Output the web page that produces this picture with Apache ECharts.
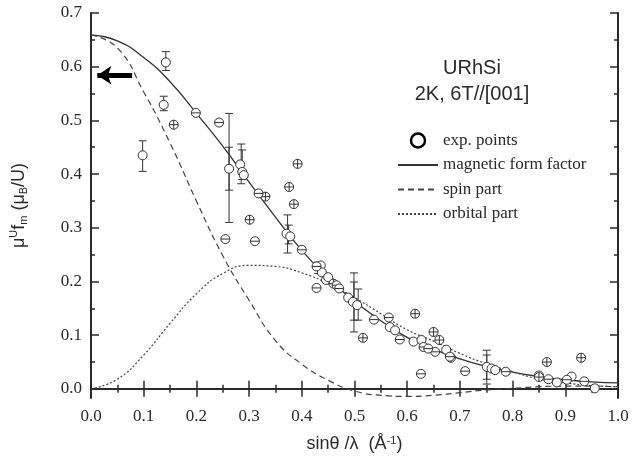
<!DOCTYPE html>
<html>
<head>
<meta charset="utf-8">
<script src="https://cdn.jsdelivr.net/npm/echarts@6/dist/echarts.min.js"></script>
<style>
html, body { margin: 0; padding: 0; background: #fff; }
#chart { width: 632px; height: 465px; }
</style>
</head>
<body>
<div id="chart"></div>
<script>
// curve abscissae (sinθ/λ)
var curveX = [0, 0.05, 0.1, 0.15, 0.2, 0.25, 0.3, 0.35, 0.4, 0.45, 0.5, 0.55, 0.6, 0.65, 0.7, 0.75, 0.8, 0.85, 0.9, 0.95, 1.0]
var formFactor = [0.659, 0.648, 0.617, 0.572, 0.513, 0.452, 0.385, 0.32, 0.258, 0.206, 0.163, 0.127, 0.096, 0.074, 0.056, 0.042, 0.031, 0.023, 0.017, 0.013, 0.011]
var spinPart = [0.659, 0.635, 0.553, 0.458, 0.35, 0.248, 0.165, 0.09, 0.046, 0.016, -0.004, -0.012, -0.014, -0.012, -0.007, -0.002, 0.001, 0.004, 0.005, 0.005, 0.004]
var orbitalPart = [0, 0.018, 0.063, 0.122, 0.177, 0.215, 0.23, 0.228, 0.216, 0.196, 0.17, 0.14, 0.11, 0.089, 0.066, 0.047, 0.032, 0.018, 0.011, 0.006, 0.004]

// measured points: open circles, crossed circles, barred circles
var openPts = [[0.098, 0.435], [0.142, 0.608], [0.138, 0.529], [0.262, 0.41], [0.283, 0.418], [0.287, 0.404],
  [0.29, 0.398], [0.371, 0.289], [0.378, 0.284], [0.436, 0.23], [0.438, 0.217], [0.446, 0.203], [0.45, 0.208],
  [0.488, 0.17], [0.497, 0.162], [0.505, 0.156], [0.567, 0.115], [0.577, 0.109], [0.612, 0.088], [0.627, 0.091],
  [0.674, 0.073], [0.751, 0.041], [0.76, 0.038], [0.767, 0.035], [0.85, 0.025], [0.884, 0.012], [0.912, 0.023],
  [0.956, 0.001]]
var crossPts = [[0.157, 0.492], [0.301, 0.315], [0.331, 0.358], [0.392, 0.419], [0.376, 0.376], [0.385, 0.344],
  [0.46, 0.196], [0.516, 0.095], [0.615, 0.14], [0.65, 0.106], [0.661, 0.091], [0.865, 0.05], [0.93, 0.058],
  [0.85, 0.022], [0.683, 0.058]]
var barPts = [[0.199, 0.514], [0.243, 0.496], [0.318, 0.364], [0.255, 0.279], [0.311, 0.275], [0.4, 0.259],
  [0.428, 0.228], [0.428, 0.188], [0.466, 0.193], [0.471, 0.187], [0.537, 0.129], [0.565, 0.133], [0.586, 0.092],
  [0.631, 0.078], [0.626, 0.028], [0.653, 0.069], [0.681, 0.06], [0.71, 0.033], [0.787, 0.032], [0.868, 0.018],
  [0.903, 0.017], [0.936, 0.014], [0.64, 0.075]]
// error bars: [x, low, high]
var errBars = [[0.098, 0.405, 0.462], [0.142, 0.593, 0.628], [0.138, 0.518, 0.545], [0.262, 0.31, 0.513],
  [0.262, 0.37, 0.45], [0.285, 0.382, 0.456], [0.287, 0.39, 0.445], [0.373, 0.253, 0.324], [0.375, 0.27, 0.305],
  [0.431, 0.215, 0.236], [0.499, 0.106, 0.216], [0.499, 0.128, 0.199], [0.507, 0.128, 0.186],
  [0.751, 0.009, 0.072], [0.751, 0.018, 0.063]]
// axis ticks
var yMajor = [0, 0.1, 0.2, 0.3, 0.4, 0.5, 0.6, 0.7]
var yMinor = [0.05, 0.15, 0.25, 0.35, 0.45, 0.55, 0.65]

var ink = '#2a2a2a'
var serif = 'Liberation Serif'
var sans = 'Liberation Sans'
var circlePlus = 'path://M0,5A5,5 0 1,1 10,5A5,5 0 1,1 0,5ZM5,0L5,10M0,5L10,5'
var circleBar = 'path://M0,5A5,5 0 1,1 10,5A5,5 0 1,1 0,5ZM0,5L10,5'

function zip(xs, ys) {
  return xs.map(function (x, i) { return [x, ys[i]] })
}

function xAx(pos, labels) {
  return {
    type: 'value', position: pos, min: 0, max: 1, interval: 0.1,
    axisLine: { lineStyle: { color: ink, width: 2 } },
    axisTick: { inside: true, length: 8, lineStyle: { color: ink, width: 1.5 } },
    minorTick: { show: true, splitNumber: 2, length: 4, lineStyle: { color: ink, width: 1.5 } },
    axisLabel: {
      show: labels, margin: 10, color: ink, fontFamily: serif, fontSize: 17,
      formatter: function (v) { return v.toFixed(1) }
    },
    splitLine: { show: false }
  }
}

function yAx(pos, ticks, len, labels) {
  return {
    type: 'value', position: pos, min: -0.017, max: 0.7,
    axisLine: { show: len > 5, onZero: false, lineStyle: { color: ink, width: 2 } },
    axisTick: { inside: true, length: len, customValues: ticks, lineStyle: { color: ink, width: 1.5 } },
    axisLabel: {
      show: labels, customValues: yMajor, margin: 9, color: ink, fontFamily: serif, fontSize: 17,
      formatter: function (v) { return v.toFixed(1) }
    },
    splitLine: { show: false }
  }
}

var chart = echarts.init(document.getElementById('chart'))

var xBottom = xAx('bottom', true)
xBottom.name = 'sin\u03b8 /\u03bb  (\u00c5{sup|-1})'
xBottom.nameLocation = 'middle'
xBottom.nameGap = 37
xBottom.nameTextStyle = {
  fontFamily: sans, fontSize: 18, color: ink,
  rich: { sup: { fontFamily: sans, fontSize: 11, color: ink, verticalAlign: 'top', padding: [0, 0, 8, 0] } }
}

var yLeft = yAx('left', yMajor, 8, true)
yLeft.name = '\u03bc{sup|U}f{sub|m} (\u03bc{sub|B}/U)'
yLeft.nameLocation = 'middle'
yLeft.nameGap = 60
yLeft.nameTextStyle = {
  fontFamily: sans, fontSize: 18, color: ink,
  rich: {
    sup: { fontFamily: sans, fontSize: 11, color: ink, padding: [0, 0, 12, 0] },
    sub: { fontFamily: sans, fontSize: 11, color: ink, padding: [8, 0, 0, 0] }
  }
}

var noDot = { opacity: 0 }

chart.setOption({
  backgroundColor: '#fff',
  animation: false,
  grid: { left: 91, right: 14, top: 13, bottom: 67 },
  title: {
    text: 'URhSi\n2K, 6T//[001]',
    left: 467, top: 50, textAlign: 'center',
    textStyle: { fontFamily: sans, fontSize: 20, fontWeight: 'normal', color: ink, lineHeight: 26 }
  },
  legend: {
    orient: 'vertical', left: 392, top: 127,
    itemWidth: 40, itemHeight: 14, itemGap: 7.5,
    textStyle: { fontFamily: serif, fontSize: 17, color: ink },
    data: [
      { name: 'exp. points', itemStyle: { borderWidth: 2.5, color: '#fff', borderColor: '#000' } },
      { name: 'magnetic form factor', itemStyle: noDot },
      { name: 'spin part', itemStyle: noDot },
      { name: 'orbital part', itemStyle: noDot }
    ]
  },
  xAxis: [xBottom, xAx('top', false)],
  yAxis: [yLeft, yAx('right', yMajor, 8, false), yAx('left', yMinor, 4, false), yAx('right', yMinor, 4, false)],
  series: [
    {
      name: 'magnetic form factor', type: 'line', smooth: true, symbol: 'none', z: 2,
      data: zip(curveX, formFactor),
      itemStyle: { color: '#333' },
      lineStyle: { color: '#333', width: 1.3 },
      markLine: {
        silent: true, symbolSize: [14, 14], animation: false,
        label: { show: false },
        lineStyle: { color: '#000', width: 5, type: 'solid' },
        data: [[{ coord: [0.078, 0.584], symbol: 'none' }, { coord: [0.012, 0.584], symbol: 'arrow' }]]
      }
    },
    {
      name: 'spin part', type: 'line', smooth: true, symbol: 'none', z: 2,
      data: zip(curveX, spinPart),
      itemStyle: { color: '#444' },
      lineStyle: { color: '#444', width: 1.2, type: [6, 4] }
    },
    {
      name: 'orbital part', type: 'line', smooth: true, symbol: 'none', z: 2,
      data: zip(curveX, orbitalPart),
      itemStyle: { color: '#444' },
      lineStyle: { color: '#444', width: 1.2, type: [2, 2] }
    },
    {
      name: 'errors', type: 'custom', z: 3,
      data: errBars,
      encode: { x: 0, y: [1, 2] },
      renderItem: function (params, api) {
        var x = api.value(0)
        var lo = api.coord([x, api.value(1)])
        var hi = api.coord([x, api.value(2)])
        var w = 4
        var st = { stroke: '#333', lineWidth: 1 }
        return {
          type: 'group',
          children: [
            { type: 'line', shape: { x1: lo[0], y1: lo[1], x2: hi[0], y2: hi[1] }, style: st },
            { type: 'line', shape: { x1: lo[0] - w, y1: lo[1], x2: lo[0] + w, y2: lo[1] }, style: st },
            { type: 'line', shape: { x1: hi[0] - w, y1: hi[1], x2: hi[0] + w, y2: hi[1] }, style: st }
          ]
        }
      }
    },
    {
      name: 'exp. points', type: 'scatter', z: 4, symbol: 'circle', symbolSize: 9,
      data: openPts,
      itemStyle: { color: '#fff', borderColor: '#333', borderWidth: 1, opacity: 1 }
    },
    {
      name: 'crossed', type: 'scatter', z: 4, symbol: circlePlus, symbolSize: 9,
      data: crossPts,
      itemStyle: { color: '#fff', borderColor: '#333', borderWidth: 1, opacity: 1 }
    },
    {
      name: 'barred', type: 'scatter', z: 4, symbol: circleBar, symbolSize: 9,
      data: barPts,
      itemStyle: { color: '#fff', borderColor: '#333', borderWidth: 1, opacity: 1 }
    }
  ]
})
</script>
</body>
</html>
